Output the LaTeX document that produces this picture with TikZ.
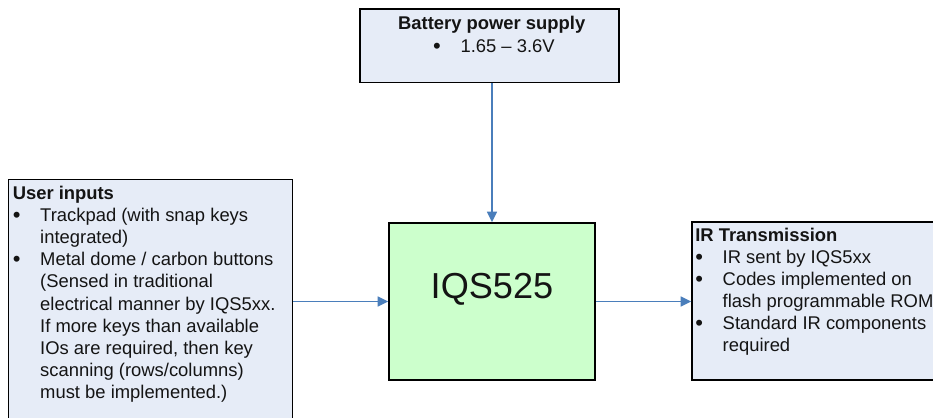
\documentclass[tikz,border=0pt]{standalone}
\usepackage{fontspec}
\setmainfont{Liberation Sans}
\usetikzlibrary{arrows.meta,fit}
\definecolor{boxblue}{RGB}{230,236,247}
\definecolor{chipgreen}{RGB}{204,255,204}
\definecolor{linkblue}{RGB}{74,126,187}
\definecolor{inktext}{RGB}{20,20,20}
\newcommand{\bl}{\makebox[20.6pt][l]{\raisebox{-0.8pt}{\fontsize{16.5pt}{16.6pt}\selectfont\textbullet}}}
\newcommand{\ind}{\hspace*{20.6pt}}
\begin{document}
\begin{tikzpicture}[x=0.75pt,y=-0.75pt,
  panel/.style={draw=black,line width=1.3pt,fill=boxblue,inner sep=0pt},
  chip/.style={draw=black,line width=1.3pt,fill=chipgreen,inner sep=0pt},
  body/.style={inner sep=0pt,align=left,anchor=north west,text=inktext,font=\fontsize{13.8pt}{16.6pt}\selectfont},
  link/.style={draw=linkblue,line width=1.2pt,-{Triangle[length=7.8pt,width=7.5pt]}}]
\useasboundingbox (0,0) rectangle (933,418);
% boxes
\node[panel,fit={(360,9) (619,82.5)}] (batt) {};
\node[panel,fit={(8.5,179.5) (292.5,440)}] (uin) {};
\node[chip,fit={(389,223) (595,380)},font=\fontsize{27.1pt}{30pt}\selectfont,text=inktext] (iqs) {IQS525};
\node[panel,fit={(692,222) (960,380)}] (ir) {};
% battery text
\node[anchor=base,inner sep=0pt,text=inktext,font=\fontsize{13.8pt}{15.2pt}\selectfont\bfseries] (btitle) at (491.7,29.3) {Battery power supply};
\node[anchor=base west,inner sep=0pt,text=inktext,font=\fontsize{13.8pt}{15.2pt}\selectfont] (bvolt) at (432.8,52.7) {\bl 1.65 \textendash{} 3.6V};
% user inputs text
\node[body] (utext) at (12.5,185.8) {\textbf{User inputs}\\
\bl Trackpad (with snap keys\\
\ind integrated)\\
\bl Metal dome / carbon buttons\\
\ind (Sensed in traditional\\
\ind electrical manner by IQS5xx.\\
\ind If more keys than available\\
\ind IOs are required, then key\\
\ind scanning (rows/columns)\\
\ind must be implemented.)};
% IR text
\node[body] (irtext) at (695,227.5) {\textbf{IR Transmission}\\
\bl IR sent by IQS5xx\\
\bl Codes implemented on\\
\ind flash programmable ROM\\
\bl Standard IR components\\
\ind required};
% connectors
\draw[link] (batt.south -| iqs.north) -- (iqs.north);
\draw[link] (uin.east |- iqs.west) -- (iqs.west);
\draw[link] (iqs.east) -- (ir.west |- iqs.east);
\end{tikzpicture}
\end{document}
